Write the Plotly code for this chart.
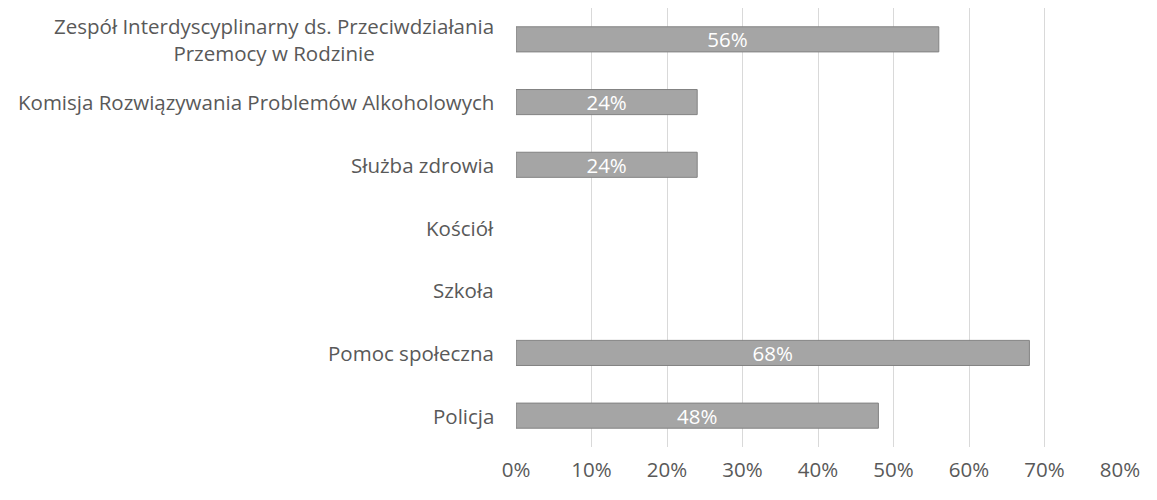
import plotly.graph_objects as go

categories = [
    "Zespół Interdyscyplinarny ds. Przeciwdziałania<br>Przemocy w Rodzinie",
    "Komisja Rozwiązywania Problemów Alkoholowych",
    "Służba zdrowia",
    "Kościół",
    "Szkoła",
    "Pomoc społeczna",
    "Policja",
]
values = [56, 24, 24, 0, 0, 68, 48]
tick_vals = [0, 10, 20, 30, 40, 50, 60, 70, 80]
tick_text = [f"{t}%" for t in tick_vals]

FONT = "Open Sans"
TEXT_COLOR = "#595959"
SIZE = 20.5

labels = [f"{v}%" if v else "" for v in values]
# no outline on empty bars
line_widths = [1 if v else 0 for v in values]

fig = go.Figure()
fig.add_trace(go.Bar(
    x=values,
    y=categories,
    orientation="h",
    text=labels,
    textposition="inside",
    insidetextanchor="middle",
    constraintext="none",
    textfont=dict(family=FONT, size=SIZE, color="white"),
    marker=dict(color="#a5a5a5", line=dict(color="#828282", width=line_widths)),
    hoverinfo="skip",
))

# category labels as annotations so the two-line label is centred
for cat in categories:
    fig.add_annotation(
        x=0, xref="paper", y=cat, yref="y",
        text=cat, showarrow=False,
        xanchor="right", align="center", xshift=-20,
        font=dict(family=FONT, size=SIZE, color=TEXT_COLOR),
    )

fig.update_layout(
    width=1157, height=500,
    margin=dict(l=508, r=45, t=0, b=61),
    paper_bgcolor="white", plot_bgcolor="white",
    bargap=0.6,
    showlegend=False,
    font=dict(family=FONT, color=TEXT_COLOR),
)
fig.update_xaxes(
    range=[0, 80],
    tickvals=tick_vals, ticktext=tick_text,
    showgrid=True, gridcolor="#d9d9d9", gridwidth=1,
    zeroline=False, showline=False,
    tickfont=dict(family=FONT, size=SIZE, color=TEXT_COLOR),
    ticklabelstandoff=8,
)
fig.update_yaxes(
    autorange="reversed",
    showticklabels=False,
    showgrid=False, zeroline=False, showline=False,
)

fig.write_html("out.html")
